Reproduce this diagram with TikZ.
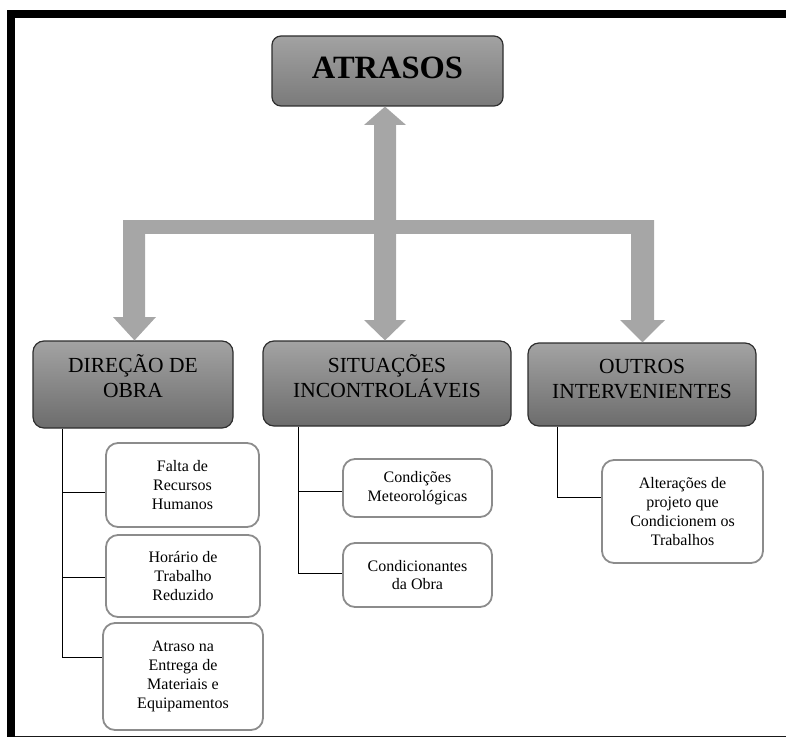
\documentclass[tikz,border=0pt]{standalone}
\usepackage{fontspec}
\setmainfont{Liberation Serif}
\definecolor{arrowgray}{HTML}{A6A6A6}
\definecolor{boxline}{HTML}{2E2E2E}
\definecolor{leafline}{HTML}{8C8C8C}
\definecolor{headtop}{HTML}{A3A3A3}
\definecolor{headbot}{HTML}{6C6C6C}
\definecolor{roottop}{HTML}{A2A2A2}
\definecolor{rootbot}{HTML}{7A7A7A}
\begin{document}
\begin{tikzpicture}[x=1pt,y=-1pt,
  rootbox/.style={draw=boxline, line width=1.2pt, rounded corners=9pt,
    top color=roottop, bottom color=rootbot, inner sep=0pt},
  topbox/.style={draw=boxline, line width=1.2pt, rounded corners=11pt,
    top color=headtop, bottom color=headbot, inner sep=0pt},
  toptext/.style={align=center, inner sep=0pt, font=\fontsize{21.5}{25}\selectfont},
  leafbox/.style={draw=leafline, line width=1.8pt, rounded corners=12pt, fill=white,
    align=center, inner sep=0pt, font=\fontsize{16}{18.8}\selectfont},
  link/.style={draw=black, line width=0.9pt},
  blockarrow/.style={fill=arrowgray}]
\useasboundingbox (0,0) rectangle (786,738);

% page frame
\fill[black] (7,10) rectangle (786,18);
\fill[black] (7,10) rectangle (15,737);
\draw[line width=1.6pt, color=black!90] (15,736.6) -- (786,736.6);

% root
\node[rootbox, minimum width=231pt, minimum height=70pt] (atr) at (387.5,71) {};
\node[inner sep=0pt, font=\fontsize{32.5}{36}\selectfont\bfseries]
  (atrtxt) at ([yshift=3pt]atr.center) {ATRASOS};

% main groups
\node[topbox, minimum width=200pt, minimum height=87pt] (dir) at (133,384.5) {};
\node[toptext] (dirtxt) at ([yshift=8.5pt]dir.center) {DIREÇÃO DE\\OBRA};
\node[topbox, minimum width=248pt, minimum height=85pt] (sit) at (387,383.5) {};
\node[toptext] (sittxt) at ([yshift=7.5pt]sit.center) {SITUAÇÕES\\INCONTROLÁVEIS};
\node[topbox, minimum width=228pt, minimum height=83pt] (out) at (642,384.5) {};
\node[toptext] (outtxt) at ([yshift=5pt]out.center) {OUTROS\\INTERVENIENTES};

% block arrows
\fill[blockarrow] (atr.south -| 385,0) -- (406,125) -- (396,125) -- (396,320) -- (406,320)
  -- (sit.north -| 385,0) -- (364,320) -- (374,320) -- (374,125) -- (364,125) -- cycle;
\fill[blockarrow] (123,220) rectangle (654,234);
\fill[blockarrow] (123,220) -- (145,220) -- (145,317) -- (156,317)
  -- (dir.north -| 134.5,0) -- (113,317) -- (123,317) -- cycle;
\fill[blockarrow] (631,220) -- (654,220) -- (654,320) -- (665,320)
  -- (out.north -| 642.5,0) -- (620,320) -- (631,320) -- cycle;

% causes
\node[leafbox, minimum width=153pt, minimum height=84pt] (falta) at (182.5,485)
  {Falta de\\Recursos\\Humanos};
\node[leafbox, minimum width=154pt, minimum height=82pt] (horario) at (183,576)
  {Horário de\\Trabalho\\Reduzido};
\node[leafbox, minimum width=160pt, minimum height=107pt] (entrega) at (183,676.5)
  {Atraso na\\Entrega de\\Materiais e\\Equipamentos};
\node[leafbox, minimum width=149pt, minimum height=58pt] (meteo) at (417.5,488)
  {Condições\\Meteorológicas};
\node[leafbox, minimum width=149pt, minimum height=64pt] (condobra) at (417.5,575)
  {Condicionantes\\da Obra};
\node[leafbox, minimum width=161pt, minimum height=103pt] (alter) at (682.5,511.5)
  {Alterações de\\projeto que\\Condicionem os\\Trabalhos};

% tree links
\coordinate (d1) at (62,492);
\coordinate (d2) at (62,577);
\coordinate (d3) at (62,657);
\draw[link] (d1 |- dir.south) -- (d3) -- (d3 -| entrega.west);
\draw[link] (d1) -- (d1 -| falta.west);
\draw[link] (d2) -- (d2 -| horario.west);

\coordinate (s1) at (298,491);
\coordinate (s2) at (298,573);
\draw[link] (s1 |- sit.south) -- (s2) -- (s2 -| condobra.west);
\draw[link] (s1) -- (s1 -| meteo.west);

\coordinate (o1) at (557,497);
\draw[link] (o1 |- out.south) -- (o1) -- (o1 -| alter.west);
\end{tikzpicture}
\end{document}
